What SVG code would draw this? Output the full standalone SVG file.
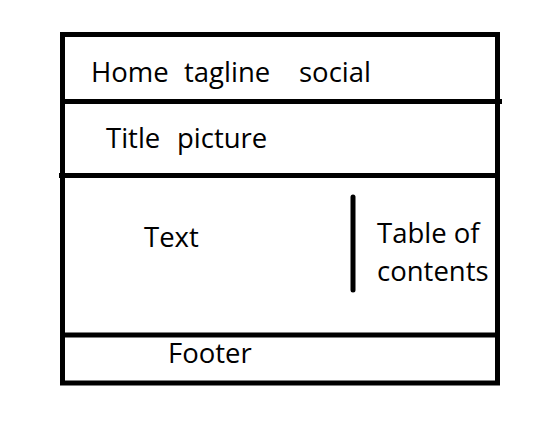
<svg xmlns="http://www.w3.org/2000/svg" width="548" height="421" viewBox="0 0 548 421">
<style>
.t{font-family:"Open Sans","Noto Sans",sans-serif;font-size:27.5px;fill:#000}
.ln{stroke:#000;stroke-width:5;fill:none}
</style>
<rect width="548" height="421" fill="#fff"/>
<g id="frame"><rect class="ln" x="62.5" y="34.5" width="435" height="348.5"/></g>
<g id="connectors">
<line class="ln" x1="60" y1="101.5" x2="502" y2="101.5"/>
<line class="ln" x1="59" y1="175.5" x2="500" y2="175.5"/>
<line class="ln" x1="62" y1="335" x2="500" y2="335"/>
<line class="ln" x1="353" y1="197" x2="353" y2="290" stroke-linecap="round"/>
</g>
<g id="header"><text class="t" y="82"><tspan x="91">Home</tspan><tspan x="184">tagline</tspan><tspan x="299">social</tspan></text></g>
<g id="title"><text class="t" y="148"><tspan x="106">Title</tspan><tspan x="177">picture</tspan></text></g>
<g id="text"><text class="t" x="144" y="247">Text</text></g>
<g id="toc"><text class="t"><tspan x="377" y="243">Table of</tspan><tspan x="377" y="281">contents</tspan></text></g>
<g id="footer"><text class="t" x="168" y="363">Footer</text></g>
</svg>
